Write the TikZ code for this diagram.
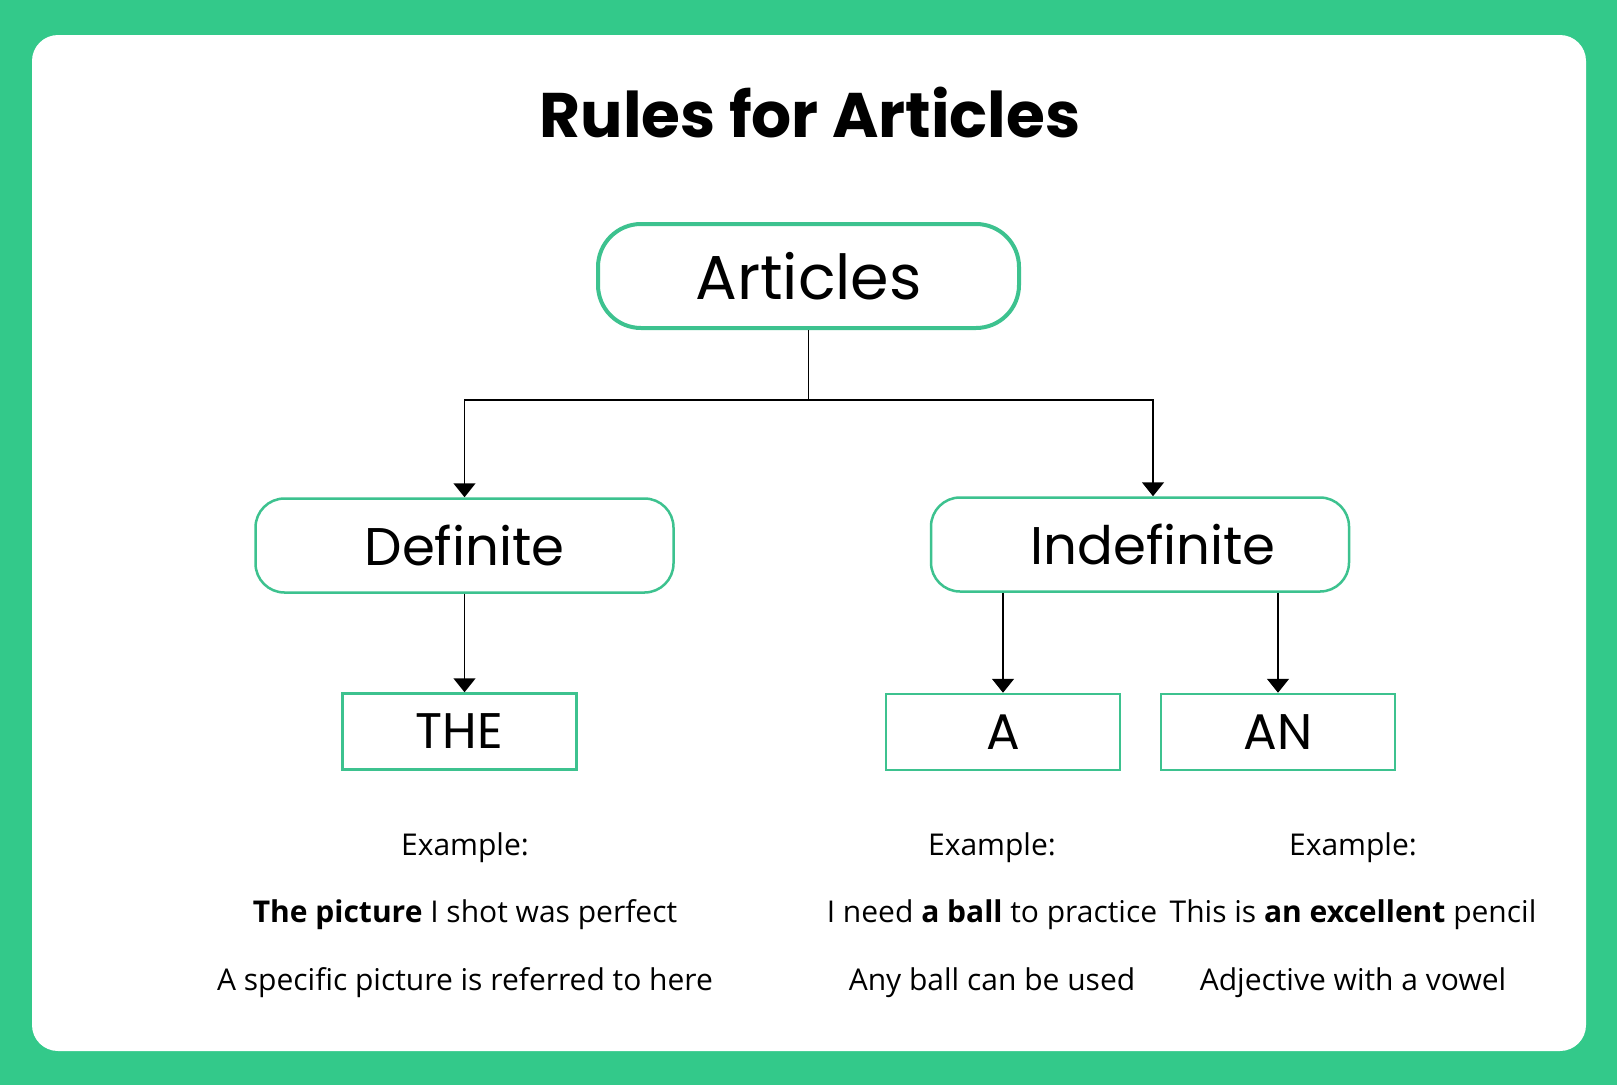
\documentclass[tikz,border=0pt]{standalone}
\usepackage{fontspec}
\setmainfont{Poppins}
\newfontfamily\ejfont{Open Sans}
\usetikzlibrary{arrows.meta, positioning}
\definecolor{verde}{HTML}{33C98A}
\definecolor{borde}{HTML}{3DC28F}
\tikzset{
    raiz/.style={draw=borde, line width=4pt, rounded corners=43pt, minimum width=421pt, minimum height=104pt, inner sep=0pt, font=\fontsize{62}{66}\selectfont},
    rama/.style={draw=borde, line width=2.5pt, rounded corners=29pt, minimum width=418pt, minimum height=94pt, inner sep=0pt, font=\fontsize{53}{57}\selectfont},
    hoja/.style={draw=borde, line width=2.5pt, minimum width=234pt, minimum height=76pt, inner sep=0pt, font=\fontsize{50}{54}\selectfont},
    ejemplo/.style={anchor=base, inner sep=0pt, font=\ejfont\fontsize{30}{33}\selectfont},
    flecha/.style={-{Triangle[length=14pt,width=22pt]}, line width=1.6pt},
}

\begin{document}
\begin{tikzpicture}[x=1pt, y=-1pt]
\useasboundingbox (0,0) rectangle (1617,1085);
\fill[verde] (0,0) rectangle (1617,1085);
\fill[white, rounded corners=26pt] (32,35) rectangle (1586,1051);
% titulo
\node[anchor=base, inner sep=0pt, font=\bfseries\fontsize{63}{67}\selectfont] (titulo) at (810,137) {Rules for Articles};
% cajas
\node[raiz] (art) at (808.5,276) {Articles};
\node[rama] (def) at (464.5,545.5) {Definite};
\node[rama] (indef) at (1140,544.5) {\hspace*{26pt}Indefinite};
\node[hoja] (the) at (459.5,731.5) {THE};
\node[hoja] (a) at (1003,732) {A};
\node[hoja] (an) at (1278,732) {AN};
% flechas
\coordinate (cruce) at (808.5,400);
\draw[line width=1.6pt] (art.south) -- (cruce);
\draw[flecha] (cruce) -| (def.north);
\draw[flecha] (cruce) -| ([xshift=13pt]indef.north);
\draw[flecha] (def.south) -- (def.south |- the.north);
\draw[flecha] (indef.south -| a.north) -- (a.north);
\draw[flecha] (indef.south -| an.north) -- (an.north);
% ejemplos
\node[ejemplo] (ej1) at (465,855) {Example:};
\node[ejemplo] (ej2) at (465,922) {\textbf{The picture} I shot was perfect};
\node[ejemplo] (ej3) at (465,990) {A specific picture is referred to here};
\node[ejemplo] (ej4) at (992,855) {Example:};
\node[ejemplo] (ej5) at (992,922) {I need \textbf{a ball} to practice};
\node[ejemplo] (ej6) at (992,990) {Any ball can be used};
\node[ejemplo] (ej7) at (1353,855) {Example:};
\node[ejemplo] (ej8) at (1353,922) {This is \textbf{an excellent} pencil};
\node[ejemplo] (ej9) at (1353,990) {Adjective with a vowel};
\end{tikzpicture}
\end{document}
